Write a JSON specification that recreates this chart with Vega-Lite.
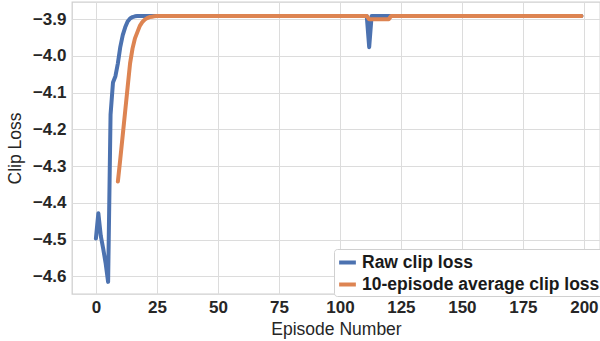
{
  "$schema": "https://vega.github.io/schema/vega-lite/v6.json",
  "width": 528,
  "height": 292,
  "autosize": {"type": "none"},
  "padding": {"left": 72, "top": 2, "right": 0, "bottom": 47},
  "background": "white",
  "config": {
    "view": {"stroke": "#d0d0d0", "strokeWidth": 1.3},
    "axis": {
      "grid": true, "gridColor": "#dcdcdc", "gridWidth": 1, "ticks": false, "domain": false,
      "labelFont": "Liberation Sans", "labelFontWeight": "bold", "labelFontSize": 17, "labelColor": "#262626",
      "titleFont": "Liberation Sans", "titleFontWeight": "normal", "titleFontSize": 17.5, "titleColor": "#262626"
    },
    "legend": {
      "labelFont": "Liberation Sans", "labelFontWeight": "bold", "labelFontSize": 17.5, "labelColor": "#1a1a1a", "labelLimit": 400
    }
  },
  "data": {"values": [
    {"ep":0,"raw":-4.497,"avg":null},{"ep":1,"raw":-4.428,"avg":null},{"ep":2,"raw":-4.49,"avg":null},{"ep":3,"raw":-4.525,"avg":null},{"ep":4,"raw":-4.565,"avg":null},
    {"ep":5,"raw":-4.615,"avg":null},{"ep":6,"raw":-4.16,"avg":null},{"ep":7,"raw":-4.072,"avg":null},{"ep":8,"raw":-4.055,"avg":null},{"ep":9,"raw":-4.02,"avg":-4.342},
    {"ep":10,"raw":-3.975,"avg":-4.28},{"ep":11,"raw":-3.943,"avg":-4.215},{"ep":12,"raw":-3.922,"avg":-4.15},{"ep":13,"raw":-3.906,"avg":-4.085},{"ep":14,"raw":-3.898,"avg":-4.02},
    {"ep":15,"raw":-3.894,"avg":-3.98},{"ep":16,"raw":-3.892,"avg":-3.952},{"ep":17,"raw":-3.891,"avg":-3.935},{"ep":18,"raw":-3.891,"avg":-3.918},{"ep":19,"raw":-3.891,"avg":-3.908},
    {"ep":20,"raw":-3.891,"avg":-3.901},{"ep":21,"raw":-3.891,"avg":-3.897},{"ep":22,"raw":-3.891,"avg":-3.894},{"ep":23,"raw":-3.891,"avg":-3.893},{"ep":24,"raw":-3.891,"avg":-3.892},
    {"ep":25,"raw":-3.891,"avg":-3.891},{"ep":26,"raw":-3.891,"avg":-3.891},{"ep":27,"raw":-3.891,"avg":-3.891},{"ep":28,"raw":-3.891,"avg":-3.891},{"ep":29,"raw":-3.891,"avg":-3.891},
    {"ep":30,"raw":-3.891,"avg":-3.891},{"ep":31,"raw":-3.891,"avg":-3.891},{"ep":32,"raw":-3.891,"avg":-3.891},{"ep":33,"raw":-3.891,"avg":-3.891},{"ep":34,"raw":-3.891,"avg":-3.891},
    {"ep":35,"raw":-3.891,"avg":-3.891},{"ep":36,"raw":-3.891,"avg":-3.891},{"ep":37,"raw":-3.891,"avg":-3.891},{"ep":38,"raw":-3.891,"avg":-3.891},{"ep":39,"raw":-3.891,"avg":-3.891},
    {"ep":40,"raw":-3.891,"avg":-3.891},{"ep":41,"raw":-3.891,"avg":-3.891},{"ep":42,"raw":-3.891,"avg":-3.891},{"ep":43,"raw":-3.891,"avg":-3.891},{"ep":44,"raw":-3.891,"avg":-3.891},
    {"ep":45,"raw":-3.891,"avg":-3.891},{"ep":46,"raw":-3.891,"avg":-3.891},{"ep":47,"raw":-3.891,"avg":-3.891},{"ep":48,"raw":-3.891,"avg":-3.891},{"ep":49,"raw":-3.891,"avg":-3.891},
    {"ep":50,"raw":-3.891,"avg":-3.891},{"ep":51,"raw":-3.891,"avg":-3.891},{"ep":52,"raw":-3.891,"avg":-3.891},{"ep":53,"raw":-3.891,"avg":-3.891},{"ep":54,"raw":-3.891,"avg":-3.891},
    {"ep":55,"raw":-3.891,"avg":-3.891},{"ep":56,"raw":-3.891,"avg":-3.891},{"ep":57,"raw":-3.891,"avg":-3.891},{"ep":58,"raw":-3.891,"avg":-3.891},{"ep":59,"raw":-3.891,"avg":-3.891},
    {"ep":60,"raw":-3.891,"avg":-3.891},{"ep":61,"raw":-3.891,"avg":-3.891},{"ep":62,"raw":-3.891,"avg":-3.891},{"ep":63,"raw":-3.891,"avg":-3.891},{"ep":64,"raw":-3.891,"avg":-3.891},
    {"ep":65,"raw":-3.891,"avg":-3.891},{"ep":66,"raw":-3.891,"avg":-3.891},{"ep":67,"raw":-3.891,"avg":-3.891},{"ep":68,"raw":-3.891,"avg":-3.891},{"ep":69,"raw":-3.891,"avg":-3.891},
    {"ep":70,"raw":-3.891,"avg":-3.891},{"ep":71,"raw":-3.891,"avg":-3.891},{"ep":72,"raw":-3.891,"avg":-3.891},{"ep":73,"raw":-3.891,"avg":-3.891},{"ep":74,"raw":-3.891,"avg":-3.891},
    {"ep":75,"raw":-3.891,"avg":-3.891},{"ep":76,"raw":-3.891,"avg":-3.891},{"ep":77,"raw":-3.891,"avg":-3.891},{"ep":78,"raw":-3.891,"avg":-3.891},{"ep":79,"raw":-3.891,"avg":-3.891},
    {"ep":80,"raw":-3.891,"avg":-3.891},{"ep":81,"raw":-3.891,"avg":-3.891},{"ep":82,"raw":-3.891,"avg":-3.891},{"ep":83,"raw":-3.891,"avg":-3.891},{"ep":84,"raw":-3.891,"avg":-3.891},
    {"ep":85,"raw":-3.891,"avg":-3.891},{"ep":86,"raw":-3.891,"avg":-3.891},{"ep":87,"raw":-3.891,"avg":-3.891},{"ep":88,"raw":-3.891,"avg":-3.891},{"ep":89,"raw":-3.891,"avg":-3.891},
    {"ep":90,"raw":-3.891,"avg":-3.891},{"ep":91,"raw":-3.891,"avg":-3.891},{"ep":92,"raw":-3.891,"avg":-3.891},{"ep":93,"raw":-3.891,"avg":-3.891},{"ep":94,"raw":-3.891,"avg":-3.891},
    {"ep":95,"raw":-3.891,"avg":-3.891},{"ep":96,"raw":-3.891,"avg":-3.891},{"ep":97,"raw":-3.891,"avg":-3.891},{"ep":98,"raw":-3.891,"avg":-3.891},{"ep":99,"raw":-3.891,"avg":-3.891},
    {"ep":100,"raw":-3.891,"avg":-3.891},{"ep":101,"raw":-3.891,"avg":-3.891},{"ep":102,"raw":-3.891,"avg":-3.891},{"ep":103,"raw":-3.891,"avg":-3.891},{"ep":104,"raw":-3.891,"avg":-3.891},
    {"ep":105,"raw":-3.891,"avg":-3.891},{"ep":106,"raw":-3.891,"avg":-3.891},{"ep":107,"raw":-3.891,"avg":-3.891},{"ep":108,"raw":-3.891,"avg":-3.891},{"ep":109,"raw":-3.891,"avg":-3.891},
    {"ep":110,"raw":-3.891,"avg":-3.891},{"ep":111,"raw":-3.891,"avg":-3.891},{"ep":112,"raw":-3.976,"avg":-3.9},{"ep":113,"raw":-3.891,"avg":-3.9},{"ep":114,"raw":-3.891,"avg":-3.9},
    {"ep":115,"raw":-3.891,"avg":-3.9},{"ep":116,"raw":-3.891,"avg":-3.9},{"ep":117,"raw":-3.891,"avg":-3.9},{"ep":118,"raw":-3.891,"avg":-3.9},{"ep":119,"raw":-3.891,"avg":-3.9},
    {"ep":120,"raw":-3.891,"avg":-3.9},{"ep":121,"raw":-3.891,"avg":-3.891},{"ep":122,"raw":-3.891,"avg":-3.891},{"ep":123,"raw":-3.891,"avg":-3.891},{"ep":124,"raw":-3.891,"avg":-3.891},
    {"ep":125,"raw":-3.891,"avg":-3.891},{"ep":126,"raw":-3.891,"avg":-3.891},{"ep":127,"raw":-3.891,"avg":-3.891},{"ep":128,"raw":-3.891,"avg":-3.891},{"ep":129,"raw":-3.891,"avg":-3.891},
    {"ep":130,"raw":-3.891,"avg":-3.891},{"ep":131,"raw":-3.891,"avg":-3.891},{"ep":132,"raw":-3.891,"avg":-3.891},{"ep":133,"raw":-3.891,"avg":-3.891},{"ep":134,"raw":-3.891,"avg":-3.891},
    {"ep":135,"raw":-3.891,"avg":-3.891},{"ep":136,"raw":-3.891,"avg":-3.891},{"ep":137,"raw":-3.891,"avg":-3.891},{"ep":138,"raw":-3.891,"avg":-3.891},{"ep":139,"raw":-3.891,"avg":-3.891},
    {"ep":140,"raw":-3.891,"avg":-3.891},{"ep":141,"raw":-3.891,"avg":-3.891},{"ep":142,"raw":-3.891,"avg":-3.891},{"ep":143,"raw":-3.891,"avg":-3.891},{"ep":144,"raw":-3.891,"avg":-3.891},
    {"ep":145,"raw":-3.891,"avg":-3.891},{"ep":146,"raw":-3.891,"avg":-3.891},{"ep":147,"raw":-3.891,"avg":-3.891},{"ep":148,"raw":-3.891,"avg":-3.891},{"ep":149,"raw":-3.891,"avg":-3.891},
    {"ep":150,"raw":-3.891,"avg":-3.891},{"ep":151,"raw":-3.891,"avg":-3.891},{"ep":152,"raw":-3.891,"avg":-3.891},{"ep":153,"raw":-3.891,"avg":-3.891},{"ep":154,"raw":-3.891,"avg":-3.891},
    {"ep":155,"raw":-3.891,"avg":-3.891},{"ep":156,"raw":-3.891,"avg":-3.891},{"ep":157,"raw":-3.891,"avg":-3.891},{"ep":158,"raw":-3.891,"avg":-3.891},{"ep":159,"raw":-3.891,"avg":-3.891},
    {"ep":160,"raw":-3.891,"avg":-3.891},{"ep":161,"raw":-3.891,"avg":-3.891},{"ep":162,"raw":-3.891,"avg":-3.891},{"ep":163,"raw":-3.891,"avg":-3.891},{"ep":164,"raw":-3.891,"avg":-3.891},
    {"ep":165,"raw":-3.891,"avg":-3.891},{"ep":166,"raw":-3.891,"avg":-3.891},{"ep":167,"raw":-3.891,"avg":-3.891},{"ep":168,"raw":-3.891,"avg":-3.891},{"ep":169,"raw":-3.891,"avg":-3.891},
    {"ep":170,"raw":-3.891,"avg":-3.891},{"ep":171,"raw":-3.891,"avg":-3.891},{"ep":172,"raw":-3.891,"avg":-3.891},{"ep":173,"raw":-3.891,"avg":-3.891},{"ep":174,"raw":-3.891,"avg":-3.891},
    {"ep":175,"raw":-3.891,"avg":-3.891},{"ep":176,"raw":-3.891,"avg":-3.891},{"ep":177,"raw":-3.891,"avg":-3.891},{"ep":178,"raw":-3.891,"avg":-3.891},{"ep":179,"raw":-3.891,"avg":-3.891},
    {"ep":180,"raw":-3.891,"avg":-3.891},{"ep":181,"raw":-3.891,"avg":-3.891},{"ep":182,"raw":-3.891,"avg":-3.891},{"ep":183,"raw":-3.891,"avg":-3.891},{"ep":184,"raw":-3.891,"avg":-3.891},
    {"ep":185,"raw":-3.891,"avg":-3.891},{"ep":186,"raw":-3.891,"avg":-3.891},{"ep":187,"raw":-3.891,"avg":-3.891},{"ep":188,"raw":-3.891,"avg":-3.891},{"ep":189,"raw":-3.891,"avg":-3.891},
    {"ep":190,"raw":-3.891,"avg":-3.891},{"ep":191,"raw":-3.891,"avg":-3.891},{"ep":192,"raw":-3.891,"avg":-3.891},{"ep":193,"raw":-3.891,"avg":-3.891},{"ep":194,"raw":-3.891,"avg":-3.891},
    {"ep":195,"raw":-3.891,"avg":-3.891},{"ep":196,"raw":-3.891,"avg":-3.891},{"ep":197,"raw":-3.891,"avg":-3.891},{"ep":198,"raw":-3.891,"avg":-3.891},{"ep":199,"raw":-3.891,"avg":-3.891}
  ]},
  "encoding": {
    "x": {
      "field": "ep", "type": "quantitative",
      "scale": {"domain": [-9.8, 206.6], "nice": false, "zero": false},
      "axis": {"values": [0, 25, 50, 75, 100, 125, 150, 175, 200], "title": "Episode Number", "labelPadding": 5, "titlePadding": 5, "format": "d"}
    }
  },
  "layer": [
    {
      "mark": {"type": "line", "strokeWidth": 4, "strokeCap": "round", "strokeJoin": "round", "clip": true},
      "encoding": {
        "y": {
          "field": "raw", "type": "quantitative",
          "scale": {"domain": [-4.648, -3.853], "nice": false, "zero": false},
          "axis": {"values": [-4.6, -4.5, -4.4, -4.3, -4.2, -4.1, -4.0, -3.9], "format": ".1f", "title": "Clip Loss", "labelPadding": 6, "titlePadding": 8}
        },
        "color": {
          "datum": "Raw clip loss",
          "type": "nominal",
          "scale": {"domain": ["Raw clip loss", "10-episode average clip loss"], "range": ["#4C72B0", "#DD8452"]},
          "legend": {
            "title": null, "orient": "none", "legendX": 262, "legendY": 247, "direction": "vertical",
            "symbolType": "stroke", "symbolStrokeWidth": 4, "symbolSize": 280,
            "labelOffset": 4, "rowPadding": 3, "padding": 3,
            "fillColor": "white", "strokeColor": "#d0d0d0", "cornerRadius": 3
          }
        }
      }
    },
    {
      "mark": {"type": "line", "strokeWidth": 4, "strokeCap": "round", "strokeJoin": "round", "clip": true},
      "encoding": {
        "y": {"field": "avg", "type": "quantitative"},
        "color": {"datum": "10-episode average clip loss", "type": "nominal"}
      }
    }
  ]
}
